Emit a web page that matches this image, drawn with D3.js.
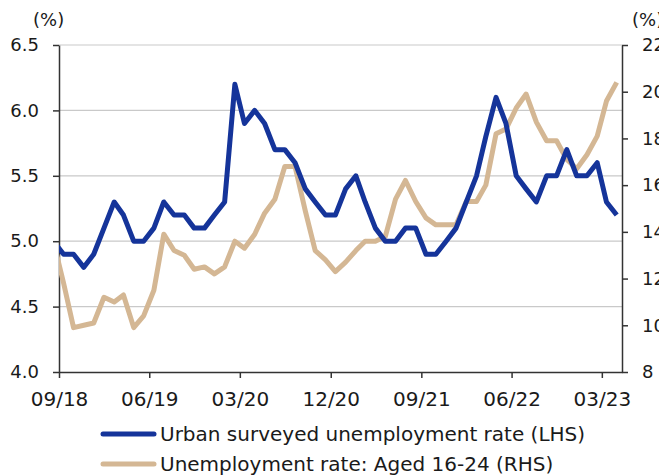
<!DOCTYPE html>
<html>
<head>
<meta charset="utf-8">
<script src="https://cdn.jsdelivr.net/npm/d3@7"></script>
<style>
  html, body { margin: 0; padding: 0; background: #ffffff; }
  svg { display: block; }
</style>
</head>
<body>
<svg id="chart"></svg>
<script>
// Monthly series, starting Aug 2018 (first point sits just left of the axis and is clipped).
const FIRST_MONTH = '2018-08';

const urbanRate = [
  5.0, 4.9, 4.9, 4.8, 4.9,
  5.1, 5.3, 5.2, 5.0, 5.0, 5.1, 5.3, 5.2, 5.2, 5.1, 5.1, 5.2,
  5.3, 6.2, 5.9, 6.0, 5.9, 5.7, 5.7, 5.6, 5.4, 5.3, 5.2, 5.2,
  5.4, 5.5, 5.3, 5.1, 5.0, 5.0, 5.1, 5.1, 4.9, 4.9, 5.0, 5.1,
  5.3, 5.5, 5.8, 6.1, 5.9, 5.5, 5.4, 5.3, 5.5, 5.5, 5.7, 5.5,
  5.5, 5.6, 5.3, 5.2
];

const youthRate = [
  13.6, 11.8, 9.9, 10.0, 10.1,
  11.2, 11.0, 11.3, 9.9, 10.4, 11.5, 13.9, 13.2, 13.0, 12.4, 12.5, 12.2,
  12.5, 13.6, 13.3, 13.9, 14.8, 15.4, 16.8, 16.8, 14.9, 13.2, 12.8, 12.3,
  12.7, 13.2, 13.6, 13.6, 13.8, 15.4, 16.2, 15.3, 14.6, 14.3, 14.3, 14.3,
  15.3, 15.3, 16.0, 18.2, 18.4, 19.3, 19.9, 18.7, 17.9, 17.9, 17.1, 16.7,
  17.3, 18.1, 19.6, 20.4
];

const xTickLabels = ['09/18', '06/19', '03/20', '12/20', '09/21', '06/22', '03/23'];
const leftTicks = [4.0, 4.5, 5.0, 5.5, 6.0, 6.5];
const rightTicks = [8, 10, 12, 14, 16, 18, 20, 22];
const seriesNames = ['Urban surveyed unemployment rate (LHS)', 'Unemployment rate: Aged 16-24 (RHS)'];

const WIDTH = 659;
const HEIGHT = 475;
const PLOT_LEFT = 59;
const PLOT_RIGHT = 622;
const PLOT_TOP = 45;
const PLOT_BOTTOM = 372;

const BLUE = '#15349a';
const TAN = '#d4b794';
const AXIS = '#333333';
const GRID = '#c9c9c9';
const FONT = '"DejaVu Sans", sans-serif';

const parseMonth = d3.timeParse('%Y-%m');
const parseTick = d3.timeParse('%m/%y');
const start = parseMonth(FIRST_MONTH);
// points sit mid-month; ticks sit on the first of the month
const months = urbanRate.map((_, i) => d3.timeDay.offset(d3.timeMonth.offset(start, i), 14));

const x = d3.scaleTime()
  .domain([new Date(2018, 8, 1), new Date(2023, 4, 1)])
  .range([PLOT_LEFT, PLOT_RIGHT]);

const yLeft = d3.scaleLinear()
  .domain([4, 6.5])
  .range([PLOT_BOTTOM, PLOT_TOP]);

const yRight = d3.scaleLinear()
  .domain([8, 22])
  .range([PLOT_BOTTOM, PLOT_TOP]);

const root = d3.select('#chart')
  .attr('width', WIDTH)
  .attr('height', HEIGHT)
  .attr('viewBox', `0 0 ${WIDTH} ${HEIGHT}`);

root.append('defs')
  .append('clipPath')
  .attr('id', 'plot-clip')
  .append('rect')
  .attr('x', PLOT_LEFT)
  .attr('y', 0)
  .attr('width', PLOT_RIGHT - PLOT_LEFT)
  .attr('height', HEIGHT);

// gridlines from the left scale
root.append('g')
  .selectAll('line')
  .data(leftTicks.filter((d) => d > 4))
  .join('line')
  .attr('x1', PLOT_LEFT)
  .attr('x2', PLOT_RIGHT)
  .attr('y1', (d) => yLeft(d))
  .attr('y2', (d) => yLeft(d))
  .attr('stroke', GRID)
  .attr('stroke-width', 1.2);

function styleAxis(g, size) {
  g.select('.domain').attr('stroke', AXIS).attr('stroke-width', 1.5);
  g.selectAll('.tick line').attr('stroke', AXIS).attr('stroke-width', 1.5);
  g.selectAll('.tick text')
    .attr('fill', '#1a1a1a')
    .attr('font-family', FONT)
    .attr('font-size', size);
}

root.append('g')
  .attr('transform', `translate(${PLOT_LEFT},0)`)
  .call(d3.axisLeft(yLeft)
    .tickValues(leftTicks)
    .tickFormat(d3.format('.1f'))
    .tickSizeInner(6)
    .tickSizeOuter(0)
    .tickPadding(14))
  .call((g) => styleAxis(g, 18));

root.append('g')
  .attr('transform', `translate(${PLOT_RIGHT},0)`)
  .call(d3.axisRight(yRight)
    .tickValues(rightTicks)
    .tickSizeInner(6)
    .tickSizeOuter(0)
    .tickPadding(14))
  .call((g) => styleAxis(g, 18));

root.append('g')
  .attr('transform', `translate(0,${PLOT_BOTTOM})`)
  .call(d3.axisBottom(x)
    .tickValues(xTickLabels.map(parseTick))
    .tickFormat(d3.timeFormat('%m/%y'))
    .tickSizeInner(6)
    .tickSizeOuter(0)
    .tickPadding(14))
  .call((g) => styleAxis(g, 20));

// unit labels
[PLOT_LEFT - 26, PLOT_RIGHT + 10].forEach((ux) => {
  root.append('text')
    .attr('x', ux)
    .attr('y', 26)
    .attr('fill', '#1a1a1a')
    .attr('font-family', FONT)
    .attr('font-size', 18)
    .text('(%)');
});

const plot = root.append('g').attr('clip-path', 'url(#plot-clip)');

const lineLeft = d3.line()
  .x((d, i) => x(months[i]))
  .y((d) => yLeft(d));

const lineRight = d3.line()
  .x((d, i) => x(months[i]))
  .y((d) => yRight(d));

plot.append('path')
  .datum(youthRate)
  .attr('d', lineRight)
  .attr('fill', 'none')
  .attr('stroke', TAN)
  .attr('stroke-width', 5)
  .attr('stroke-linejoin', 'round');

plot.append('path')
  .datum(urbanRate)
  .attr('d', lineLeft)
  .attr('fill', 'none')
  .attr('stroke', BLUE)
  .attr('stroke-width', 5)
  .attr('stroke-linejoin', 'round');

// legend
const legend = root.append('g');
[BLUE, TAN].forEach((color, i) => {
  const ly = 434 + i * 30;

  legend.append('line')
    .attr('x1', 103)
    .attr('x2', 154)
    .attr('y1', ly)
    .attr('y2', ly)
    .attr('stroke', color)
    .attr('stroke-width', 5)
    .attr('stroke-linecap', 'round');

  legend.append('text')
    .attr('x', 160)
    .attr('y', ly)
    .attr('dominant-baseline', 'central')
    .attr('fill', '#1a1a1a')
    .attr('font-family', FONT)
    .attr('font-size', 20)
    .text(seriesNames[i]);
});
</script>
</body>
</html>
